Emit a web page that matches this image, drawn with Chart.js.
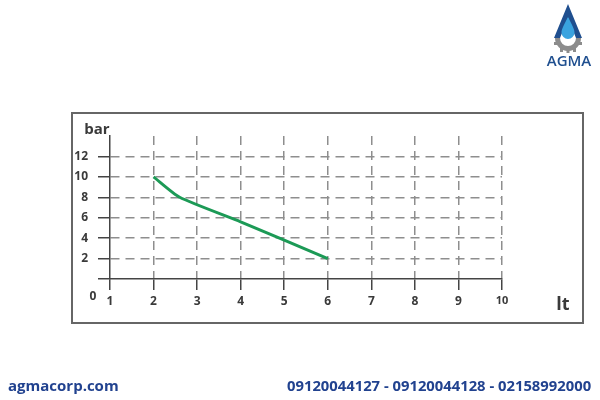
<!DOCTYPE html>
<html>
<head>
<meta charset="utf-8">
<script src="https://cdn.jsdelivr.net/npm/chart.js@4"></script>
<style>
  html, body { margin: 0; padding: 0; background: #fff; }
  #wrap { position: relative; width: 600px; height: 400px; overflow: hidden; }
  #frame { position: absolute; left: 71px; top: 112px; width: 509px; height: 208px; border: 2px solid #666; }
  #chart { position: absolute; left: 0; top: 0; }
  #logo { position: absolute; left: 546px; top: 0; width: 50px; height: 72px; }
  .foot { position: absolute; top: 375px; font-family: "Open Sans", sans-serif; font-weight: 700; color: #21428f; }
  #site { left: 8px; font-size: 15px; }
  #phones { left: 287px; font-size: 14.8px; }
</style>
</head>
<body>
<div id="wrap">
  <div id="frame"></div>
  <canvas id="chart" width="600" height="400"></canvas>
  <svg id="logo" viewBox="0 0 50 72">
    <g fill="#8c8c8c">
      <path d="M9 38 A13 13 0 0 0 35 38 L30 38 A8 8 0 0 1 14 38 Z"/>
      <rect x="8" y="42" width="4" height="3"/>
      <rect x="32" y="42" width="4" height="3"/>
      <rect x="14" y="48" width="3" height="4"/>
      <rect x="27" y="48" width="3" height="4"/>
      <rect x="20.5" y="50" width="3" height="3"/>
    </g>
    <path d="M22 4 L8 38 L14 38 L22 18 L30 38 L36 38 Z" fill="#1f4f8f"/>
    <path d="M22 17 C18 25 15.5 29 15.5 32.5 A6.5 6.5 0 0 0 28.5 32.5 C28.5 29 26 25 22 17 Z" fill="#3aa3df"/>
    <text x="23" y="66" text-anchor="middle" font-family="Open Sans, sans-serif" font-size="15" font-weight="600" fill="#1f4f8f">AGMA</text>
  </svg>
  <div class="foot" id="site">agmacorp.com</div>
  <div class="foot" id="phones">09120044127 - 09120044128 - 02158992000</div>
</div>
<script>
// flow curve: litres vs bar
const flowLt = [2, 2.6, 4, 6];
const pressureBar = [10, 8, 5.6, 2];
const xMin = 1, xMax = 10;
const yMin = 0, yMax = 14;
const yTitle = 'bar';
const xTitle = 'lt';
const originLabel = '0';

const gridColor = '#8e8e8e';
const axisColor = '#444';
const labelColor = '#3a3a3a';

// extra text: axis units and the lone "0" at the origin
const axisText = {
  id: 'axisText',
  afterDraw(chart) {
    const { ctx, scales: { x, y } } = chart;
    ctx.save();
    ctx.fillStyle = labelColor;
    ctx.textBaseline = 'middle';
    ctx.textAlign = 'center';
    ctx.font = 'bold 12px "Open Sans", sans-serif';
    ctx.fillText(originLabel, x.getPixelForValue(xMin) - 17, y.getPixelForValue(yMin) + 18);
    ctx.font = 'bold 15px "Open Sans", sans-serif';
    ctx.fillText(yTitle, 97, 130);
    ctx.font = 'bold 18px "Open Sans", sans-serif';
    ctx.fillText(xTitle, 563, 305);
    ctx.restore();
  }
};

const ctx = document.getElementById('chart').getContext('2d');
new Chart(ctx, {
  type: 'line',
  data: {
    datasets: [{
      data: flowLt.map((v, i) => ({ x: v, y: pressureBar[i] })),
      borderColor: '#1c9a56',
      borderWidth: 3,
      pointRadius: 0,
      tension: 0.2,
      fill: false
    }]
  },
  options: {
    responsive: false,
    animation: false,
    layout: { padding: { left: 70, top: 136, right: 98, bottom: 81 } },
    plugins: { legend: { display: false }, tooltip: { enabled: false } },
    scales: {
      x: {
        type: 'linear',
        min: xMin,
        max: xMax,
        afterFit: s => { s.height = 40; },
        ticks: {
          stepSize: 1,
          padding: 4,
          color: labelColor,
          font: c => ({ family: '"Open Sans", sans-serif', weight: 'bold', size: c.tick && c.tick.value === 10 ? 11 : 12 })
        },
        grid: {
          color: c => c.tick && c.tick.value === xMin ? 'rgba(0,0,0,0)' : gridColor,
          lineWidth: 1.5,
          tickLength: 11,
          tickColor: axisColor,
          tickWidth: 1.5
        },
        border: { display: true, color: axisColor, width: 1.5, dash: [9, 6], dashOffset: 0 }
      },
      y: {
        min: yMin,
        max: yMax,
        afterFit: s => { s.width = 40; },
        ticks: {
          stepSize: 2,
          padding: 10,
          color: labelColor,
          font: { family: '"Open Sans", sans-serif', weight: 'bold', size: 12 },
          callback: v => (v === yMin || v === yMax) ? '' : v
        },
        grid: {
          color: c => c.tick && (c.tick.value === yMin || c.tick.value === yMax) ? 'rgba(0,0,0,0)' : gridColor,
          lineWidth: 1.5,
          tickLength: 12,
          tickColor: c => c.tick && c.tick.value === yMax ? 'rgba(0,0,0,0)' : axisColor,
          tickWidth: 1.5
        },
        border: { display: true, color: axisColor, width: 1.5, dash: [9, 6], dashOffset: 0 }
      }
    }
  },
  plugins: [axisText]
});
</script>
</body>
</html>
